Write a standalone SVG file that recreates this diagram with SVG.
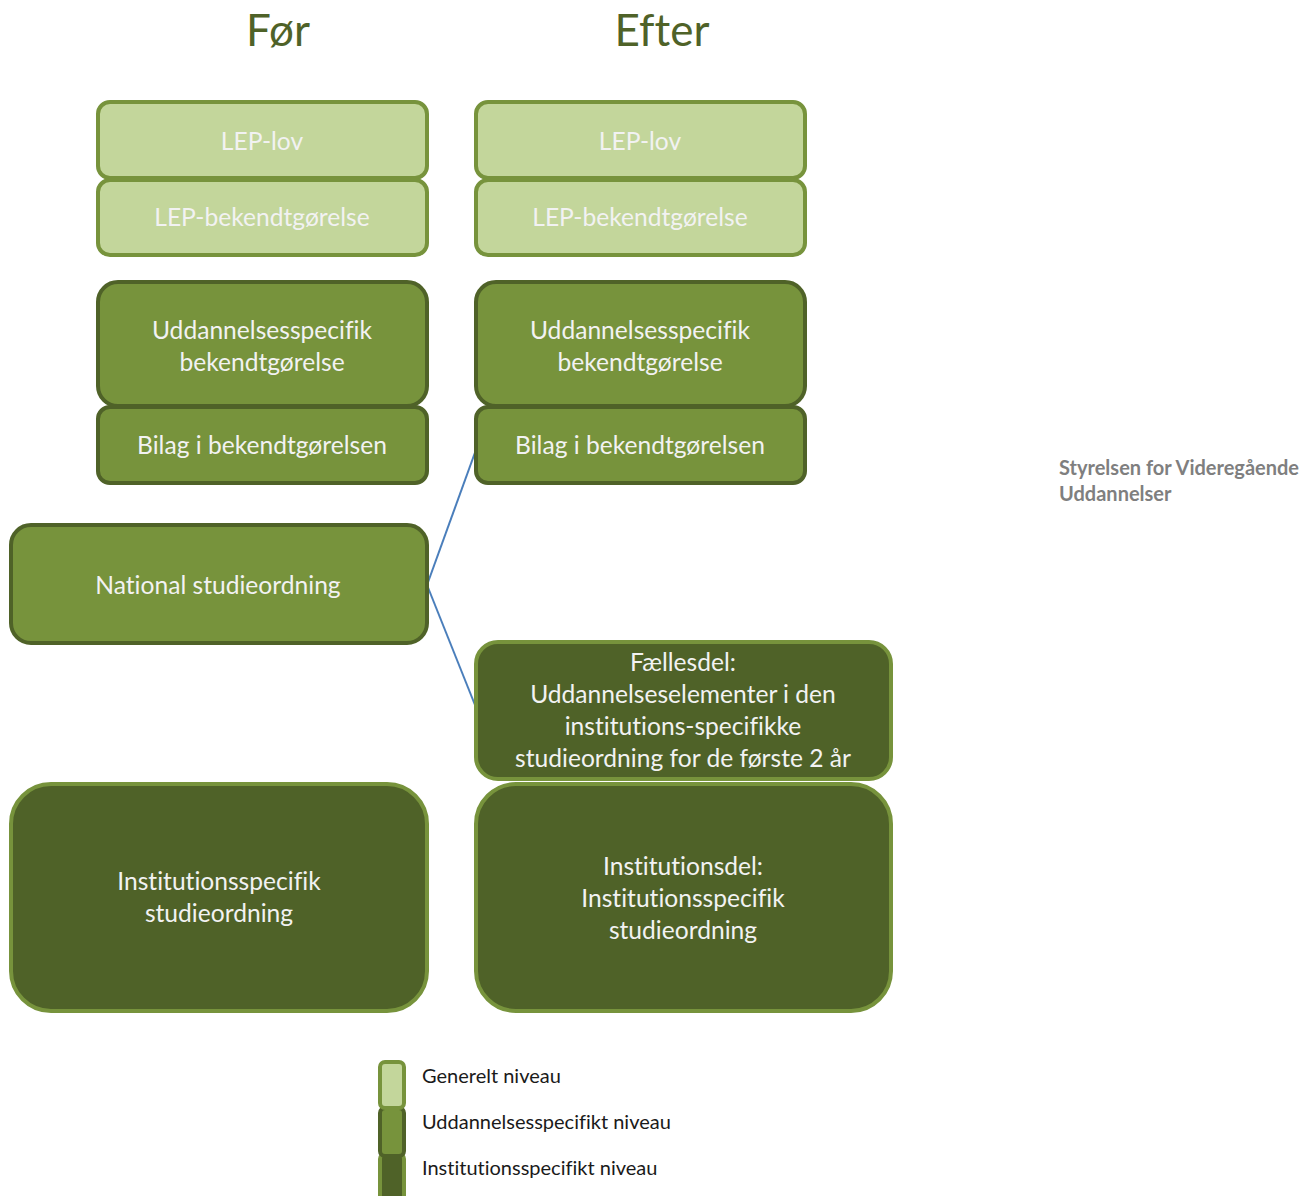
<svg xmlns="http://www.w3.org/2000/svg" width="1312" height="1196" viewBox="0 0 1312 1196">
<style>
text{font-family:Lato,"Open Sans","Liberation Sans",sans-serif;font-variant-ligatures:none;}
.t{fill:#f2f2f2;font-size:24.6px;text-anchor:middle;}
.gen{fill:#c3d69b;stroke:#77933c;stroke-width:4;}
.udd{fill:#77933c;stroke:#4f6228;stroke-width:4;}
.ins{fill:#4f6228;stroke:#77933c;stroke-width:4;}
.h{fill:#4f6228;font-size:44px;text-anchor:middle;}
.lg{fill:#1a1a1a;font-size:20px;}
.conn{stroke:#4a7ebb;stroke-width:2;fill:none;}
</style>
<rect width="1312" height="1196" fill="#ffffff"/>
<text class="h" x="278" y="46">Før</text>
<text class="h" x="662" y="46">Efter</text>
<g id="conns">
<path class="conn" d="M427,585 L477,447"/>
<path class="conn" d="M427,585 L477,710"/>
</g>
<g id="f-lep-lov"><rect class="gen" x="98" y="102" width="329" height="76" rx="12"/><text class="t" x="262" y="150">LEP-lov</text></g>
<g id="f-lep-bek"><rect class="gen" x="98" y="180" width="329" height="75" rx="12"/><text class="t" x="262" y="226">LEP-bekendtgørelse</text></g>
<g id="e-lep-lov"><rect class="gen" x="476" y="102" width="329" height="76" rx="12"/><text class="t" x="640" y="150">LEP-lov</text></g>
<g id="e-lep-bek"><rect class="gen" x="476" y="180" width="329" height="75" rx="12"/><text class="t" x="640" y="226">LEP-bekendtgørelse</text></g>
<g id="f-udd-bek"><rect class="udd" x="98" y="282" width="329" height="124" rx="20"/><text class="t" x="262" y="339">Uddannelsesspecifik</text><text class="t" x="262" y="371">bekendtgørelse</text></g>
<g id="f-bilag"><rect class="udd" x="98" y="407" width="329" height="76" rx="12"/><text class="t" x="262" y="454">Bilag i bekendtgørelsen</text></g>
<g id="e-udd-bek"><rect class="udd" x="476" y="282" width="329" height="124" rx="20"/><text class="t" x="640" y="339">Uddannelsesspecifik</text><text class="t" x="640" y="371">bekendtgørelse</text></g>
<g id="e-bilag"><rect class="udd" x="476" y="407" width="329" height="76" rx="12"/><text class="t" x="640" y="454">Bilag i bekendtgørelsen</text></g>
<g id="f-national"><rect class="udd" x="11" y="525" width="416" height="118" rx="20"/><text class="t" x="218" y="594">National studieordning</text></g>
<g id="e-faelles"><rect class="ins" x="476" y="642" width="415" height="137" rx="22"/><text class="t" x="683" y="671">Fællesdel:</text><text class="t" x="683" y="703">Uddannelseselementer  i den</text><text class="t" x="683" y="735">institutions-specifikke</text><text class="t" x="683" y="767">studieordning for de første 2 år</text></g>
<g id="f-inst"><rect class="ins" x="11" y="784" width="416" height="227" rx="40"/><text class="t" x="219" y="890">Institutionsspecifik</text><text class="t" x="219" y="922">studieordning</text></g>
<g id="e-inst"><rect class="ins" x="476" y="784" width="415" height="227" rx="40"/><text class="t" x="683" y="875">Institutionsdel:</text><text class="t" x="683" y="907">Institutionsspecifik</text><text class="t" x="683" y="939">studieordning</text></g>
<g id="legend">
<rect class="ins" x="380" y="1154" width="24" height="50" rx="5"/>
<rect class="udd" x="380" y="1108" width="24" height="48" rx="5"/>
<rect class="gen" x="380" y="1062" width="24" height="46" rx="5"/>
<text class="lg" x="422" y="1083">Generelt niveau</text>
<text class="lg" x="422" y="1129">Uddannelsesspecifikt niveau</text>
<text class="lg" x="422" y="1175">Institutionsspecifikt niveau</text>
</g>
<g id="org"><text x="1059" y="475" fill="#7f7f7f" font-size="20" font-weight="bold">Styrelsen for Videregående</text><text x="1059" y="501" fill="#7f7f7f" font-size="20" font-weight="bold">Uddannelser</text></g>
</svg>
